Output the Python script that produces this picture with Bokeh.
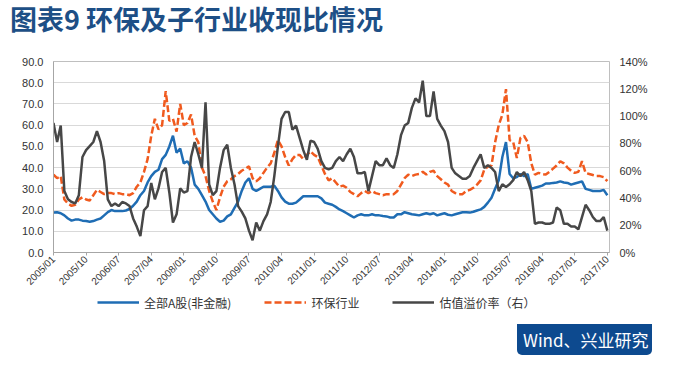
import math
from bokeh.plotting import figure
from bokeh.layouts import column
from bokeh.models import (Range1d, LinearAxis, FixedTicker, Legend, LegendItem, Div,
                          NumeralTickFormatter, PrintfTickFormatter)
from bokeh.embed import file_html
from bokeh.resources import INLINE

# ---- data (monthly, 2005/01 .. 2017/10) ----
months = [f"{y}/{m:02d}" for y in range(2005, 2018) for m in range(1, 13)][:154]

all_a_pe = [18.8, 19, 18.5, 17.5, 16, 15, 15.5, 15.5, 15, 14.8, 14.5, 14.8, 15.5, 16, 17.5, 19, 20, 19.5, 19.5, 19.5,
            19.8, 20.5, 22, 24, 27, 29, 33, 36, 38, 39, 44, 46, 50, 55, 47, 49, 42, 43, 40, 32,
            30, 27, 24, 20, 18, 16, 14.5, 15, 17, 18, 21, 24, 29, 33, 35, 30, 29, 30, 31, 31,
            31, 31.5, 29, 26, 24, 23, 23, 23.5, 25, 26.5, 26.5, 26.5, 26.5, 26.5, 25.5, 23.5, 23, 22.5, 21.5, 20.3,
            19.5, 18.5, 17.5, 16.5, 17.5, 18, 17.5, 17.5, 18, 17.5, 17.5, 17.2, 17, 16.5, 16.5, 18, 18, 19, 18.5, 18,
            17.8, 17.5, 18, 18.5, 18, 18.5, 17.5, 18, 18.5, 17.8, 17.5, 18, 18.5, 19, 19, 18.8, 19.2, 19.8, 20.3, 21.5,
            23.5, 25.8, 30, 34, 45, 52, 37, 35, 35.5, 37, 36, 37, 30, 30.5, 31, 31.5, 32.5, 32.5, 32.8, 33,
            33.5, 33, 32.8, 32, 32.5, 33, 33.5, 30, 29.5, 29, 29, 29, 29.5, 27]

env_pe = [36.7, 35, 36, 25, 23, 22, 22.5, 25, 26, 25, 24.5, 27, 29.5, 28.5, 27.5, 28, 28, 27.5, 28, 27.5,
          27.5, 27, 28, 31, 33, 38, 44, 55, 63, 58, 60, 76, 62, 63, 57, 70, 60, 61, 65, 55,
          52, 40, 36, 29, 24, 20, 26, 31, 33.6, 34.5, 36, 37, 38.5, 39.5, 40.6, 35, 33.5, 35, 37.5, 40,
          42, 47, 53, 50, 45, 41, 44, 46, 46, 44, 46, 47.7, 46, 45, 41, 37, 34, 35, 33, 31,
          31.5, 30.5, 28.5, 27.5, 26.5, 28, 29, 28, 29, 28, 27.5, 27, 27.5, 27.5, 27.5, 29, 32, 35, 36.7, 36,
          36.7, 37, 38, 36.7, 38, 38.5, 36, 34.5, 33, 32, 29, 28, 27.5, 27.5, 29, 29.5, 30.5, 32, 34, 39,
          40.5, 41, 52, 60, 65, 77, 53, 52, 44.5, 54, 55, 52, 42, 36.7, 37.5, 37, 36.7, 38, 39.5, 41,
          43, 42, 40, 38.5, 37.5, 38, 43, 37.5, 37, 36.5, 36, 36, 35.5, 33.6]

premium_pct = [95, 81, 93, 45, 39, 37, 36, 42, 70, 75, 78, 81, 89, 81, 67, 39, 34, 36, 34, 37,
               36, 34, 25, 19, 12, 31, 34, 51, 39, 47, 59, 62, 44, 22, 28, 47, 44, 45, 70, 81,
               72, 62, 110, 50, 42, 45, 62, 75, 79, 62, 50, 34, 30, 25, 16, 9, 22, 16, 23, 28,
               37, 56, 78, 98, 103, 103, 90, 93, 84, 75, 68, 82, 81, 76, 67, 62, 61, 62, 67, 70,
               67, 72, 76, 70, 58, 58, 59, 45, 56, 67, 64, 64, 69, 64, 62, 72, 86, 93, 95, 106,
               113, 110, 126, 100, 100, 118, 98, 93, 89, 81, 62, 58, 56, 54, 54, 56, 62, 67, 72, 62,
               64, 62, 59, 45, 50, 48, 50, 53, 59, 56, 59, 53, 45, 21, 22, 22, 21, 21, 22, 33,
               31, 21, 21, 19, 19, 17, 26, 35, 31, 26, 23, 23, 26, 16]

left_ticks = [0, 10, 20, 30, 40, 50, 60, 70, 80, 90]
right_ticks = [0, 20, 40, 60, 80, 100, 120, 140]

title_text = "图表9 环保及子行业收现比情况"
series_names = ["全部A股(非金融)", "环保行业", "估值溢价率（右）"]
source_text = "Wind、兴业研究"

BLUE = "#1f6db4"
ORANGE = "#f05a1e"
GRAY = "#474747"
CJK = "Noto Sans CJK SC"
STYLES = [dict(line_color=BLUE, line_width=2.5),
          dict(line_color=ORANGE, line_width=2.5, line_dash="7 3"),
          dict(line_color=GRAY, line_width=2.5)]
SERIES = [all_a_pe, env_pe, premium_pct]

# ---- title ----
title_div = Div(text=(f'<div style="font-family:\'{CJK}\';font-size:27px;font-weight:bold;'
                      f'color:#1d4f86;line-height:28px;padding-left:5px;white-space:nowrap;">'
                      f'{title_text}</div>'),
                width=659, height=38)

# ---- main chart ----
x = list(range(len(months)))
x_ticks = x[::9]

p = figure(width=659, height=245,
           min_border_left=53, min_border_right=50, min_border_top=13, min_border_bottom=39,
           x_range=Range1d(0, 153.6), y_range=Range1d(0, 90),
           output_backend="svg", toolbar_location=None)
p.extra_y_ranges = {"right": Range1d(0, 140)}

p.background_fill_color = "white"
p.border_fill_color = "white"
p.outline_line_color = "#bfbfbf"
p.xgrid.visible = False
p.ygrid.grid_line_color = "#d9d9d9"
p.ygrid.ticker = FixedTicker(ticks=left_ticks)

ya = p.yaxis[0]
ya.ticker = FixedTicker(ticks=left_ticks)
ya.formatter = NumeralTickFormatter(format="0.0")
ya.major_tick_out = 0
ya.major_tick_in = 0
ya.minor_tick_out = 0
ya.minor_tick_in = 0
ya.axis_line_color = "#a6a6a6"
ya.major_label_standoff = 10
ya.major_label_text_font = "Liberation Sans"
ya.major_label_text_font_size = "11px"
ya.major_label_text_color = "#333333"

ra = LinearAxis(y_range_name="right", ticker=FixedTicker(ticks=right_ticks),
                formatter=PrintfTickFormatter(format="%d%%"))
ra.major_tick_out = 0
ra.major_tick_in = 0
ra.minor_tick_out = 0
ra.minor_tick_in = 0
ra.axis_line_color = None
ra.major_label_standoff = 10
ra.major_label_text_font = "Liberation Sans"
ra.major_label_text_font_size = "11px"
ra.major_label_text_color = "#333333"
p.add_layout(ra, "right")

xa = p.xaxis[0]
xa.ticker = FixedTicker(ticks=x_ticks)
xa.major_label_overrides = {i: months[i] for i in x_ticks}
xa.major_label_orientation = math.pi / 4
xa.major_tick_out = 3
xa.major_tick_in = 0
xa.minor_tick_out = 0
xa.minor_tick_in = 0
xa.axis_line_color = "#a6a6a6"
xa.major_tick_line_color = "#a6a6a6"
xa.major_label_text_font = "Liberation Sans"
xa.major_label_text_font_size = "10px"
xa.major_label_text_color = "#333333"
xa.major_label_standoff = 2

p.line(x, all_a_pe, **STYLES[0])
p.line(x, env_pe, **STYLES[1])
p.line(x, premium_pct, y_range_name="right", **STYLES[2])

# ---- legend strip (same series, drawn outside its visible range so only the legend shows) ----
pb = figure(width=659, height=28, x_range=Range1d(0, 153.6), y_range=Range1d(-1000, -990),
            min_border_left=53, min_border_right=50, min_border_top=0, min_border_bottom=0,
            x_axis_type=None, y_axis_type=None, output_backend="svg", toolbar_location=None)
pb.grid.visible = False
pb.outline_line_color = None
pb.background_fill_color = "white"
pb.border_fill_color = "white"
proxies = [pb.line(x, s, **st) for s, st in zip(SERIES, STYLES)]
legend = Legend(items=[LegendItem(label=n, renderers=[r]) for n, r in zip(series_names, proxies)],
                location=(44, 10), orientation="horizontal",
                padding=0, margin=0, spacing=33, glyph_width=42, glyph_height=18,
                label_height=18, label_standoff=5,
                border_line_alpha=0, background_fill_alpha=0,
                label_text_font=CJK, label_text_font_size="12px", label_text_color="#333333")
pb.add_layout(legend)

# ---- source tag ----
src_div = Div(text=(f'<div style="font-family:\'{CJK}\';font-size:17px;color:white;'
                    f'line-height:31px;padding-left:6px;white-space:nowrap;">{source_text}</div>'),
              width=135, height=31, margin=(3, 0, 0, 517),
              styles={"background-color": "#0d4a8f", "border-radius": "0 0 5px 5px"})

layout = column(title_div, p, pb, src_div, spacing=0)
open("out.html", "w").write(file_html(layout, INLINE))
